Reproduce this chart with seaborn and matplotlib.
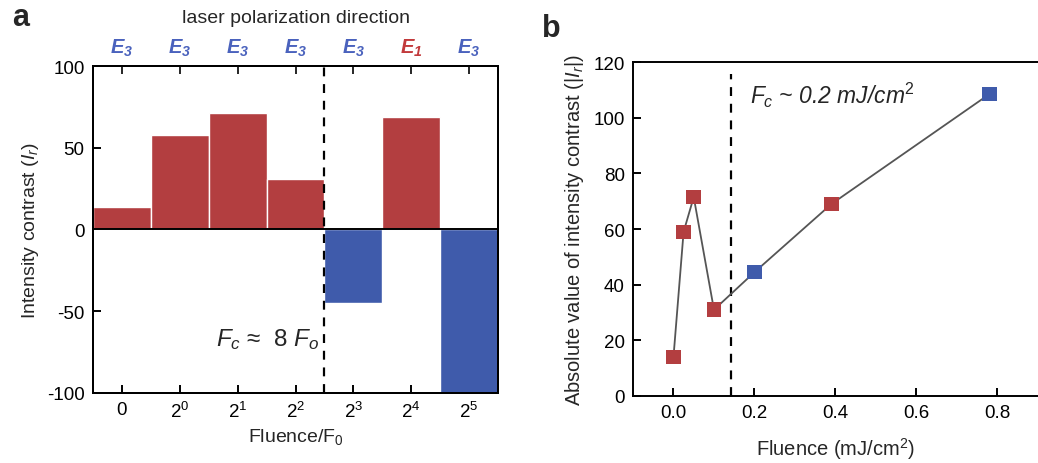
import numpy as np
import pandas as pd
import matplotlib
matplotlib.use("Agg")
import matplotlib.pyplot as plt
import seaborn as sns

# ---- data ----
fluence_labels = ["0", "$2^0$", "$2^1$", "$2^2$", "$2^3$", "$2^4$", "$2^5$"]
contrast = [14, 58, 71, 31, -45, 69, -100]
polarization = ["3", "3", "3", "3", "3", "1", "3"]
pol_colors = ["blue", "blue", "blue", "blue", "blue", "red", "blue"]

fluence_mj = [0.0, 0.025, 0.05, 0.1, 0.2, 0.39, 0.78]
abs_contrast = [14, 59, 71.5, 31, 44.5, 69, 108.5]
point_sign = ["pos", "pos", "pos", "pos", "neg", "pos", "neg"]

RED = "#b33e40"
BLUE = "#3f5bab"
LBLUE = "#4a62bd"
LRED = "#c23a3c"

sns.set_theme(style="ticks")
plt.rcParams["font.family"] = ["Liberation Sans", "DejaVu Sans"]
plt.rcParams["mathtext.fontset"] = "custom"
plt.rcParams["mathtext.rm"] = "Liberation Sans"
plt.rcParams["mathtext.it"] = "Liberation Sans:italic"
plt.rcParams["mathtext.bf"] = "Liberation Sans:bold"
plt.rcParams["mathtext.bfit"] = "Liberation Sans:bold:italic"
plt.rcParams["axes.unicode_minus"] = False
plt.rcParams["axes.linewidth"] = 1.4
plt.rcParams["axes.edgecolor"] = "black"

fig = plt.figure(figsize=(10.38, 4.64), dpi=100)
axa = fig.add_axes([0.0896, 0.1509, 0.3902, 0.7047])
axb = fig.add_axes([0.6098, 0.1444, 0.3902, 0.7196])

TICK = 13.5
LAB = 14

# ---- panel a ----
dfa = pd.DataFrame({
    "fluence": fluence_labels,
    "contrast": contrast,
    "sign": ["pos" if v >= 0 else "neg" for v in contrast],
})
sns.barplot(data=dfa, x="fluence", y="contrast", hue="sign",
            palette={"pos": RED, "neg": BLUE}, dodge=False, width=1.0,
            edgecolor="white", linewidth=1.0, saturation=1, legend=False, ax=axa)
axa.set_xlim(-0.5, 6.5)
axa.set_ylim(-100, 100)
axa.set_yticks([-100, -50, 0, 50, 100])
axa.axhline(0, color="black", lw=1.4, zorder=3)
axa.axvline(3.5, color="black", lw=1.6, ls=(0, (4, 3.5)), zorder=4)
axa.tick_params(axis="both", direction="in", length=6, width=1.4, labelsize=TICK,
                colors="black", pad=6)
axa.set_xlabel("Fluence/F$_0$", fontsize=LAB, labelpad=3)
axa.set_ylabel("Intensity contrast ($I_r$)", fontsize=LAB, labelpad=4)
for s in axa.spines.values():
    s.set_visible(True)
    s.set_linewidth(1.4)

axt = axa.twiny()
axt.set_xlim(axa.get_xlim())
axt.set_xticks(range(len(polarization)))
axt.set_xticklabels([r"$\mathbfit{E}_{\mathbfit{" + p + "}}$" for p in polarization],
                    fontsize=14.5)
for lab, c in zip(axt.get_xticklabels(), pol_colors):
    lab.set_color(LBLUE if c == "blue" else LRED)
axt.tick_params(axis="x", direction="in", length=6, width=1.4, pad=6)
axt.set_xlabel("laser polarization direction", fontsize=LAB, labelpad=10)

axa.text(3.42, -67, r"$F_c$ ≈  8 $F_o$", fontsize=17.5, ha="right", va="center")

# ---- panel b ----
dfb = pd.DataFrame({"fluence": fluence_mj, "abs": abs_contrast, "sign": point_sign})
sns.lineplot(data=dfb, x="fluence", y="abs", color="#555555", lw=1.3, ax=axb,
             sort=False, zorder=2)
sns.scatterplot(data=dfb, x="fluence", y="abs", hue="sign",
                palette={"pos": RED, "neg": BLUE}, marker="s", s=110,
                edgecolor="none", legend=False, ax=axb, zorder=3)
axb.set_xlim(-0.1, 0.9)
axb.set_ylim(0, 120)
axb.set_xticks([0.0, 0.2, 0.4, 0.6, 0.8])
axb.set_xticklabels(["0.0", "0.2", "0.4", "0.6", "0.8"])
axb.set_yticks([0, 20, 40, 60, 80, 100, 120])
axb.axvline(0.143, ymax=0.965, color="black", lw=1.6, ls=(0, (4, 3.5)), zorder=1)
axb.tick_params(axis="both", direction="in", length=6, width=1.4, labelsize=TICK,
                colors="black", pad=6)
axb.set_xlabel("Fluence (mJ/cm$^2$)", fontsize=LAB + 0.5, labelpad=10)
axb.set_ylabel("Absolute value of intensity contrast (|$I_r$|)", fontsize=LAB + 0.5,
               labelpad=5)
axb.spines["right"].set_visible(False)
axb.spines["top"].set_visible(True)
axb.text(0.19, 108.5, r"$F_c$ ~ 0.2 mJ/cm$^2$", fontsize=16.5, style="italic",
         ha="left", va="center")

fig.text(0.012, 0.945, "a", fontsize=22, fontweight="bold")
fig.text(0.522, 0.92, "b", fontsize=22, fontweight="bold")

fig.savefig("out.png", dpi=100)
